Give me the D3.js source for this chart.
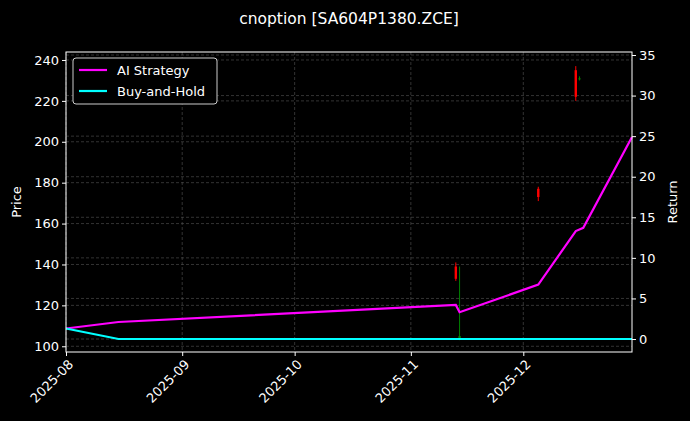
<!DOCTYPE html><html><head><meta charset="utf-8">
<script src="https://cdn.jsdelivr.net/npm/d3@7"></script>
<style>body{margin:0;background:#000}</style></head><body>
<script>
const candleDates=["2025-11-13","2025-11-14","2025-12-05","2025-12-15","2025-12-16"];
const candleOpen=[139,104,177,235,231];
const candleHigh=[141,139,178,237,232];
const candleLow=[132,103,171,220,230];
const candleClose=[133,105,173,222,231];
const retDates=["2025-08-01","2025-08-15","2025-11-13","2025-11-14","2025-12-05","2025-12-15","2025-12-17","2025-12-30"];
const aiRet=[1.3,2.1,4.2,3.3,6.7,13.3,13.7,24.9];
const bhDates=["2025-08-01","2025-08-15","2025-12-30"];
const bhRet=[1.3,0,0];
const xTicks=["2025-08","2025-09","2025-10","2025-11","2025-12"];

const W=690,H=421,m={l:66,r:58,t:52,b:69};
const p=d3.timeParse("%Y-%m-%d");
const svg=d3.select("body").append("svg").attr("width",W).attr("height",H).style("background","#000")
 .style("font-family","DejaVu Sans");
const x=d3.scaleTime().domain([p("2025-08-01"),p("2025-12-30")]).range([m.l,W-m.r]);
const yL=d3.scaleLinear().domain([97.2,243.9]).range([H-m.b,m.t]);
const yR=d3.scaleLinear().domain([-1.6,35.37]).range([H-m.b,m.t]);
const pw=W-m.l-m.r, ph=H-m.t-m.b;
const grid=svg.append("g").attr("stroke","#555").attr("stroke-dasharray","3,2").attr("stroke-width",0.6);
yL.ticks(8).forEach(v=>grid.append("line").attr("x1",m.l).attr("x2",W-m.r).attr("y1",yL(v)).attr("y2",yL(v)));
yR.ticks(7).forEach(v=>grid.append("line").attr("x1",m.l).attr("x2",W-m.r).attr("y1",yR(v)).attr("y2",yR(v)));
xTicks.forEach(t=>{const xx=x(d3.timeParse("%Y-%m")(t));grid.append("line").attr("x1",xx).attr("x2",xx).attr("y1",m.t).attr("y2",H-m.b);});
candleDates.forEach((d,i)=>{const xx=x(p(d));const c=candleClose[i]>=candleOpen[i]?"green":"red";
 svg.append("line").attr("x1",xx).attr("x2",xx).attr("y1",yL(candleHigh[i])).attr("y2",yL(candleLow[i])).attr("stroke",c).attr("stroke-width",1);
 const t=yL(Math.max(candleOpen[i],candleClose[i])),b=yL(Math.min(candleOpen[i],candleClose[i]));
 svg.append("rect").attr("x",xx-1.2).attr("width",2.4).attr("y",t).attr("height",Math.max(1,b-t)).attr("fill",c);});
const line=d3.line().x(d=>x(p(d[0]))).y(d=>yR(d[1]));
svg.append("path").attr("d",line(retDates.map((d,i)=>[d,aiRet[i]]))).attr("fill","none").attr("stroke","#ff00ff").attr("stroke-width",2.2);
svg.append("path").attr("d",line(bhDates.map((d,i)=>[d,bhRet[i]]))).attr("fill","none").attr("stroke","#00ffff").attr("stroke-width",2.2);
svg.append("rect").attr("x",m.l).attr("y",m.t).attr("width",pw).attr("height",ph).attr("fill","none").attr("stroke","#fff").attr("stroke-width",1);
const ax=svg.append("g").attr("transform",`translate(0,${H-m.b})`).call(d3.axisBottom(x).tickValues(xTicks.map(d3.timeParse("%Y-%m"))).tickFormat(d3.timeFormat("%Y-%m")).tickSize(4));
const al=svg.append("g").attr("transform",`translate(${m.l},0)`).call(d3.axisLeft(yL).tickValues(d3.range(100,241,20)).tickSize(4));
const ar=svg.append("g").attr("transform",`translate(${W-m.r},0)`).call(d3.axisRight(yR).tickValues(d3.range(0,36,5)).tickSize(4));
[ax,al,ar].forEach(g=>{g.select(".domain").remove();g.selectAll("line").attr("stroke","#fff");g.selectAll("text").attr("fill","#fff").style("font-size","13px").style("font-family","DejaVu Sans");});
ax.selectAll("text").attr("transform","rotate(-45)").attr("text-anchor","end").attr("dx","-0.3em").attr("dy","0.6em");
svg.append("text").attr("x",349).attr("y",24).attr("text-anchor","middle").attr("fill","#fff").style("font-size","15.5px").text("cnoption [SA604P1380.ZCE]");
svg.append("text").attr("transform","translate(21,202) rotate(-90)").attr("text-anchor","middle").attr("fill","#fff").style("font-size","13px").text("Price");
svg.append("text").attr("transform","translate(677,202) rotate(-90)").attr("text-anchor","middle").attr("fill","#fff").style("font-size","13px").text("Return");
const lg=svg.append("g").attr("transform","translate(73,58)");
lg.append("rect").attr("width",144).attr("height",46).attr("rx",3).attr("fill","#000").attr("stroke","#ccc");
[["AI Strategy","#ff00ff"],["Buy-and-Hold","#00ffff"]].forEach((e,i)=>{
 lg.append("line").attr("x1",6).attr("x2",34).attr("y1",12+i*21).attr("y2",12+i*21).attr("stroke",e[1]).attr("stroke-width",2.2);
 lg.append("text").attr("x",44).attr("y",16.5+i*21).attr("fill","#fff").style("font-size","13px").text(e[0]);});
</script></body></html>
